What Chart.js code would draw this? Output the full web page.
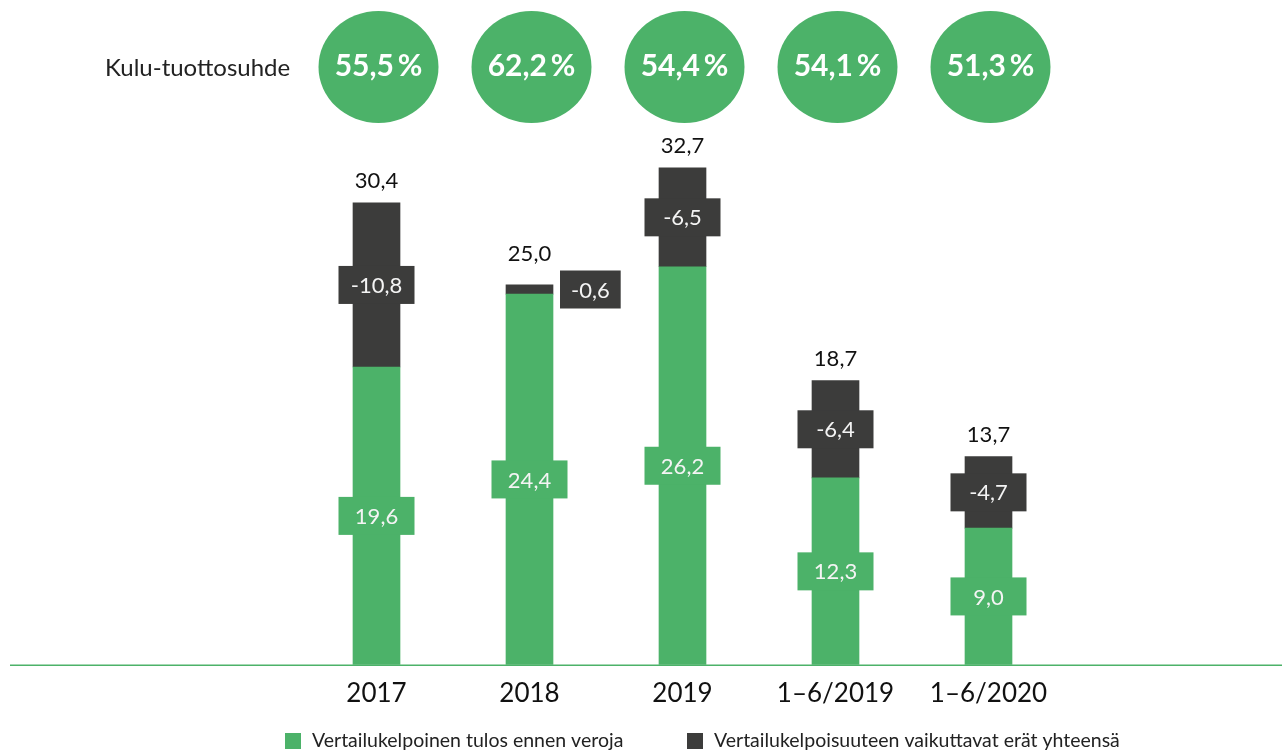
<!DOCTYPE html>
<html>
<head>
<meta charset="utf-8">
<script src="https://cdn.jsdelivr.net/npm/chart.js@4.4.1/dist/chart.umd.min.js"></script>
<style>
  html, body { margin: 0; padding: 0; background: #fff; }
  #wrap { width: 1282px; height: 751px; position: relative; }
</style>
</head>
<body>
<div id="wrap"><canvas id="kuluChart" width="1282" height="751"></canvas></div>
<script>
var periods = ["2017", "2018", "2019", "1\u20136/2019", "1\u20136/2020"];
var comparableProfit = [19.6, 24.4, 26.2, 12.3, 9.0];   // green
var adjustments = [-10.8, -0.6, -6.5, -6.4, -4.7];      // dark
var totals = [30.4, 25.0, 32.7, 18.7, 13.7];
var costIncome = [55.5, 62.2, 54.4, 54.1, 51.3];

var GREEN = "#4cb269";
var DARK = "#3c3c3b";
var FONT = "Lato, 'Open Sans', sans-serif";

function fi(v) {//finnish number format
  return v.toFixed(1).replace(".", ",");
}

var labelPlugin = {
  id: "labelPlugin",
  afterDraw: function (chart) {
    var ctx = chart.ctx;
    var yScale = chart.scales.y;
    var zeroY = yScale.getPixelForValue(0);
    var greenMeta = chart.getDatasetMeta(0);
    var darkMeta = chart.getDatasetMeta(1);

    ctx.save();
    // baseline across the whole picture
    ctx.strokeStyle = GREEN;
    ctx.lineWidth = 1.5;
    ctx.beginPath();
    ctx.moveTo(10, zeroY + 0.5);
    ctx.lineTo(chart.width, zeroY + 0.5);
    ctx.stroke();

    ctx.textAlign = "center";
    ctx.textBaseline = "middle";

    for (var i = 0; i < periods.length; ++i) {
      var g = greenMeta.data[i];
      var d = darkMeta.data[i];
      var half = g.width / 2;

      // green label box
      ctx.font = "22px " + FONT;
      var gy = (g.y + g.base) / 2;
      ctx.fillStyle = GREEN;
      ctx.fillRect(g.x - 38, gy - 19, 76, 38);
      ctx.fillStyle = "#f4f4f4";
      ctx.fillText(fi(comparableProfit[i]), g.x, gy + 1);

      // dark label box
      var dy = (d.y + d.base) / 2;
      var txt = fi(adjustments[i]);
      var totalY = d.y - 22;
      if (d.base - d.y < 38) {
        var w = ctx.measureText(txt).width + 22;
        var bx = d.x + half + 7;
        ctx.fillStyle = DARK;
        ctx.fillRect(bx, dy - 19, w, 38);
        ctx.fillStyle = "#f4f4f4";
        ctx.fillText(txt, bx + w / 2, dy + 1);
        totalY = Math.min(totalY, dy - 19 - 17);
      } else {
        ctx.fillStyle = DARK;
        ctx.fillRect(d.x - 38, dy - 19, 76, 38);
        ctx.fillStyle = "#f4f4f4";
        ctx.fillText(txt, d.x, dy + 1);
      }

      // total above
      ctx.fillStyle = "#111";
      ctx.fillText(fi(totals[i]), d.x, totalY);

      // cost/income blob
      ctx.fillStyle = GREEN;
      ctx.beginPath();
      ctx.ellipse(g.x + 2, 67, 60, 56, 0, 0, Math.PI * 2);
      ctx.fill();
      ctx.fillStyle = "#fff";
      ctx.font = "bold 30px " + FONT;
      ctx.fillText(fi(costIncome[i]) + "\u2009%", g.x + 2, 66);
    }

    ctx.font = "24px " + FONT;
    ctx.fillStyle = "#222";
    ctx.textAlign = "left";
    ctx.fillText("Kulu-tuottosuhde", 105, 68);

    // legend
    ctx.font = "19.5px " + FONT;
    ctx.fillStyle = GREEN;
    ctx.fillRect(285, 733, 16, 16);
    ctx.fillStyle = DARK;
    ctx.fillRect(687, 733, 16, 16);
    ctx.fillStyle = "#222";
    ctx.fillText("Vertailukelpoinen tulos ennen veroja", 312, 741);
    ctx.fillText("Vertailukelpoisuuteen vaikuttavat er\u00e4t yhteens\u00e4", 714, 741);
    ctx.restore();
  }
};

var ctx = document.getElementById("kuluChart");
var kuluChart = new Chart(ctx, {
  type: "bar",
  data: {
    labels: periods,
    datasets: [{
      label: "Vertailukelpoinen tulos ennen veroja",
      data: comparableProfit,
      backgroundColor: GREEN
    }, {
      label: "Vertailukelpoisuuteen vaikuttavat er\u00e4t yhteens\u00e4",
      data: adjustments.map(function (v) { return -v; }),
      backgroundColor: DARK
    }]
  },
  options: {
    responsive: false,
    animation: false,
    barThickness: 47,
    layout: { padding: { left: 300, right: 217, top: 133, bottom: 29 } },
    plugins: { legend: { display: false }, tooltip: { enabled: false } },
    scales: {
      x: {
        stacked: true,
        grid: { display: false, drawTicks: false },
        border: { display: false },
        ticks: {
          padding: 13, color: "#111", maxRotation: 0, autoSkip: false,
          font: { family: FONT, size: 26 }
        }
      },
      y: { stacked: true, display: false, min: 0, max: 35 }
    }
  },
  plugins: [labelPlugin]
});
</script>
</body>
</html>
